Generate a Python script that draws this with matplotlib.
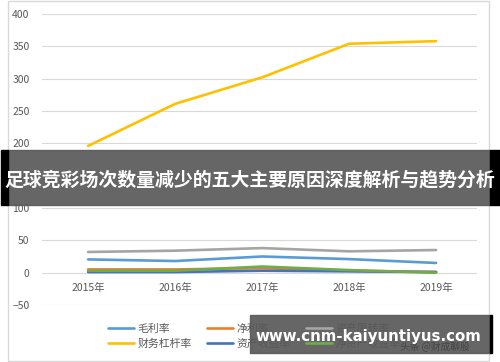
import matplotlib
matplotlib.use("Agg")
import matplotlib.pyplot as plt
from matplotlib.patches import Rectangle

plt.rcParams['font.family'] = ['Noto Sans CJK SC', 'DejaVu Sans']

# === Data ===
years = ["2015年", "2016年", "2017年", "2018年", "2019年"]
gross_margin = [20.5, 18, 25, 21, 15]        # 毛利率
net_margin = [5, 5, 7, 3, 1]                 # 净利率
asset_turnover = [32, 34, 38, 33, 35]        # 资产周转率
leverage = [196, 261, 302, 354, 358]         # 财务杠杆率
roa = [1, 1, 3, 2, 1]                        # 资产收益率
roe = [3, 3, 9.5, 4, 0]                      # 净资产收益率

series = [
    ("毛利率", gross_margin, "#5B9BD5"),
    ("净利率", net_margin, "#ED7D31"),
    ("资产周转率", asset_turnover, "#A5A5A5"),
    ("财务杠杆率", leverage, "#FFC000"),
    ("资产收益率", roa, "#4472C4"),
    ("净资产收益率", roe, "#70AD47"),
]

W, H = 500, 362
fig = plt.figure(figsize=(W / 100, H / 100), dpi=100)

def fx(px):
    return px / W

def fy(py):
    return 1 - py / H

# outer chart frame
fig.patches.append(Rectangle((fx(8), fy(361)), fx(481), 360 / H, transform=fig.transFigure,
                             fill=False, edgecolor="#D9D9D9", lw=1))

ax = fig.add_axes([fx(42), fy(305), fx(435), (305 - 14) / H])
x = list(range(len(years)))
lines = {}
for name, vals, col in series:
    lines[name], = ax.plot(x, vals, color=col, lw=1.9, label=name, solid_capstyle="round")

ax.set_xlim(-0.53, 4.47)
ax.set_ylim(-50, 400)
ax.set_yticks(range(-50, 401, 50))
ax.yaxis.grid(True, color="#D9D9D9", lw=0.8)
ax.set_axisbelow(True)
for s in ax.spines.values():
    s.set_visible(False)
ax.tick_params(axis="y", length=0, pad=9, labelsize=7.5, labelcolor="#595959")
ax.set_xticks([])
for i, yr in enumerate(years):
    ax.annotate(yr, (i, 0), xytext=(0, -11), textcoords="offset points",
                ha="center", va="center", fontsize=7.5, color="#595959")

order = ["毛利率", "财务杠杆率", "净利率", "资产收益率", "资产周转率", "净资产收益率"]
fig.legend([lines[n] for n in order], order, ncol=3, loc="center left",
           bbox_to_anchor=(fx(103), fy(336)), frameon=False, fontsize=7.8,
           labelcolor="#595959", handlelength=2.4, handletextpad=0.3,
           columnspacing=1.4, labelspacing=0.45, borderpad=0)

# title banner overlay
fig.patches.append(Rectangle((fx(8), fy(205)), fx(482), 55 / H, transform=fig.transFigure,
                             color="#5A5A5A", alpha=0.93, zorder=5))
fig.patches.append(Rectangle((fx(1), fy(205)), fx(7), 55 / H, transform=fig.transFigure,
                             color="black", zorder=5))
fig.patches.append(Rectangle((fx(490), fy(205)), fx(10), 55 / H, transform=fig.transFigure,
                             color="black", zorder=5))
fig.text(fx(250), fy(180), "足球竞彩场次数量减少的五大主要原因深度解析与趋势分析",
         ha="center", va="center", fontsize=13.6, color="white", fontweight="bold", zorder=6)

# watermark band
fig.patches.append(Rectangle((fx(250), fy(353)), fx(240), 38 / H, transform=fig.transFigure,
                             color="#5A5A5A", alpha=0.93, zorder=5))
fig.patches.append(Rectangle((fx(490), fy(353)), fx(2), 38 / H, transform=fig.transFigure,
                             color="black", zorder=5))
fig.text(fx(470), fy(347), "头条 @财成聊股", ha="right", va="center", fontsize=7,
         color="#454545", zorder=6)
fig.text(fx(368), fy(337), "www.cnm-kaiyuntiyus.com", ha="center", va="center",
         fontsize=10.8, color="white", fontweight="bold", family="DejaVu Sans", zorder=7)

fig.savefig("out.png", dpi=100, facecolor="white")
